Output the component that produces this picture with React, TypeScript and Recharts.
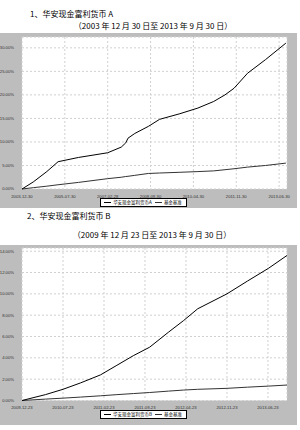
import { LineChart, Line, XAxis, YAxis, CartesianGrid, Legend } from "recharts"

// chart A: months since 2003-12-30
const A_MONTHS = [0, 5, 11, 16, 25, 38, 44, 46, 47, 50, 56, 61, 70, 78, 85, 90, 94, 100, 108, 117]
const A_FUND = [0, 1.5, 3.7, 5.8, 6.7, 7.7, 8.9, 9.8, 10.8, 11.8, 13.3, 14.8, 16.0, 17.2, 18.6, 20.0, 21.4, 24.6, 27.5, 31.0]
const A_BENCH = [0, 0.28, 0.6, 0.9, 1.4, 2.2, 2.5, 2.65, 2.7, 2.9, 3.3, 3.4, 3.55, 3.7, 3.85, 4.1, 4.3, 4.65, 5.0, 5.5]
const A_TICKS = [0, 19, 38, 57, 76, 95, 114]
const A_TICK_LABELS = ["2003-12-30", "2005-07-30", "2007-02-28", "2008-09-30", "2010-04-30", "2011-11-30", "2013-06-30"]
const A_YTICKS = [0, 5, 10, 15, 20, 25, 30]

// chart B: months since 2009-12-23
const B_MONTHS = [0, 4, 7, 10, 13.4, 16.2, 19, 21.8, 25, 27.6, 30, 35, 38.5, 42.1, 45.25]
const B_FUND = [0, 0.55, 1.05, 1.65, 2.4, 3.3, 4.2, 5.0, 6.4, 7.5, 8.6, 10.0, 11.2, 12.4, 13.6]
const B_BENCH = [0, 0.13, 0.22, 0.32, 0.44, 0.55, 0.65, 0.75, 0.88, 0.98, 1.05, 1.14, 1.25, 1.35, 1.45]
const B_TICKS = [0, 7, 14, 21, 28, 35, 42]
const B_TICK_LABELS = ["2009-12-23", "2010-07-23", "2011-02-23", "2011-09-23", "2012-04-23", "2012-11-23", "2013-06-23"]
const B_YTICKS = [0, 2, 4, 6, 8, 10, 12, 14]

const CJK = '"Noto Sans CJK SC", sans-serif'
const tickStyle = { fontSize: 4.2, fill: "#333", fontFamily: "Liberation Sans, sans-serif" }

function LegendBox({ name, height }: { name: string; height: number }) {
  const item = (label: string, color: string) => (
    <span style={{ display: "inline-flex", alignItems: "center", marginRight: 3 }}>
      <span style={{ display: "inline-block", width: 7, height: 1, background: color, marginRight: 2 }} />
      {label}
    </span>
  )
  return (
    <div style={{ height, display: "flex", justifyContent: "center", alignItems: "flex-start", paddingTop: 2, boxSizing: "border-box" }}>
      <div
        style={{
          border: "1px solid #000",
          background: "#fff",
          fontSize: 4.5,
          fontFamily: CJK,
          lineHeight: "7px",
          padding: "0 1px 0 3px",
          display: "flex",
          color: "#000",
        }}
      >
        {item(name, "#000")}
        {item("基金基准", "#333")}
      </div>
    </div>
  )
}

function FundChart(props: {
  months: number[]
  fund: number[]
  bench: number[]
  ticks: number[]
  tickLabels: string[]
  yTicks: number[]
  xMax: number
  yMax: number
  height: number
  top: number
  legendH: number
  name: string
}) {
  const data = props.months.map((m, i) => ({ m, fund: props.fund[i], bench: props.bench[i] }))
  return (
    <LineChart width={300} height={props.height} data={data} margin={{ top: props.top, right: 13, bottom: 0, left: 0 }}>
      <CartesianGrid fill="#fff" stroke="#d0d0d0" strokeDasharray="2 2" />
      <XAxis
        dataKey="m"
        type="number"
        domain={[0, props.xMax]}
        ticks={props.ticks}
        tickFormatter={(v: number) => props.tickLabels[props.ticks.indexOf(v)] ?? ""}
        tick={tickStyle}
        tickLine={false}
        axisLine={false}
        height={7}
        tickMargin={0}
        interval={0}
      />
      <YAxis
        type="number"
        domain={[0, props.yMax]}
        ticks={props.yTicks}
        tickFormatter={(v: number) => v.toFixed(2) + "%"}
        tick={tickStyle}
        tickLine={false}
        axisLine={false}
        width={22}
        tickMargin={2}
        interval={0}
      />
      <Legend verticalAlign="bottom" content={() => <LegendBox name={props.name} height={props.legendH} />} />
      <Line type="linear" dataKey="bench" stroke="#333" strokeWidth={1} dot={false} isAnimationActive={false} />
      <Line type="linear" dataKey="fund" stroke="#000" strokeWidth={1} dot={false} isAnimationActive={false} />
    </LineChart>
  )
}

export default function App() {
  const titleStyle = { position: "absolute" as const, fontFamily: CJK, fontSize: 8, color: "#000", whiteSpace: "pre" as const }
  return (
    <div style={{ position: "absolute", left: 0, top: 0, width: 300, height: 430, background: "#fff", overflow: "hidden" }}>
      <div style={{ ...titleStyle, left: 30, top: 8 }}>1、华安现金富利货币 A</div>
      <div style={{ ...titleStyle, left: 0, width: 306, textAlign: "center", top: 20 }}>（2003 年 12 月 30 日至 2013 年 9 月 30 日）</div>
      <div style={{ position: "absolute", left: 0, top: 33, width: 297, height: 175, background: "#bdbdbd" }}>
        <FundChart
          months={A_MONTHS}
          fund={A_FUND}
          bench={A_BENCH}
          ticks={A_TICKS}
          tickLabels={A_TICK_LABELS}
          yTicks={A_YTICKS}
          xMax={117.5}
          yMax={32.3}
          height={175}
          top={4}
          legendH={12}
          name="华安现金富利货币A"
        />
      </div>
      <div style={{ ...titleStyle, left: 27, top: 210 }}>2、华安现金富利货币 B</div>
      <div style={{ ...titleStyle, left: 0, width: 304, textAlign: "center", top: 229 }}>（2009 年 12 月 23 日至 2013 年 9 月 30 日）</div>
      <div style={{ position: "absolute", left: 0, top: 245, width: 297, height: 180, background: "#bdbdbd" }}>
        <FundChart
          months={B_MONTHS}
          fund={B_FUND}
          bench={B_BENCH}
          ticks={B_TICKS}
          tickLabels={B_TICK_LABELS}
          yTicks={B_YTICKS}
          xMax={45.25}
          yMax={14.3}
          height={180}
          top={3}
          legendH={17.5}
          name="华安现金富利货币B"
        />
      </div>
    </div>
  )
}
